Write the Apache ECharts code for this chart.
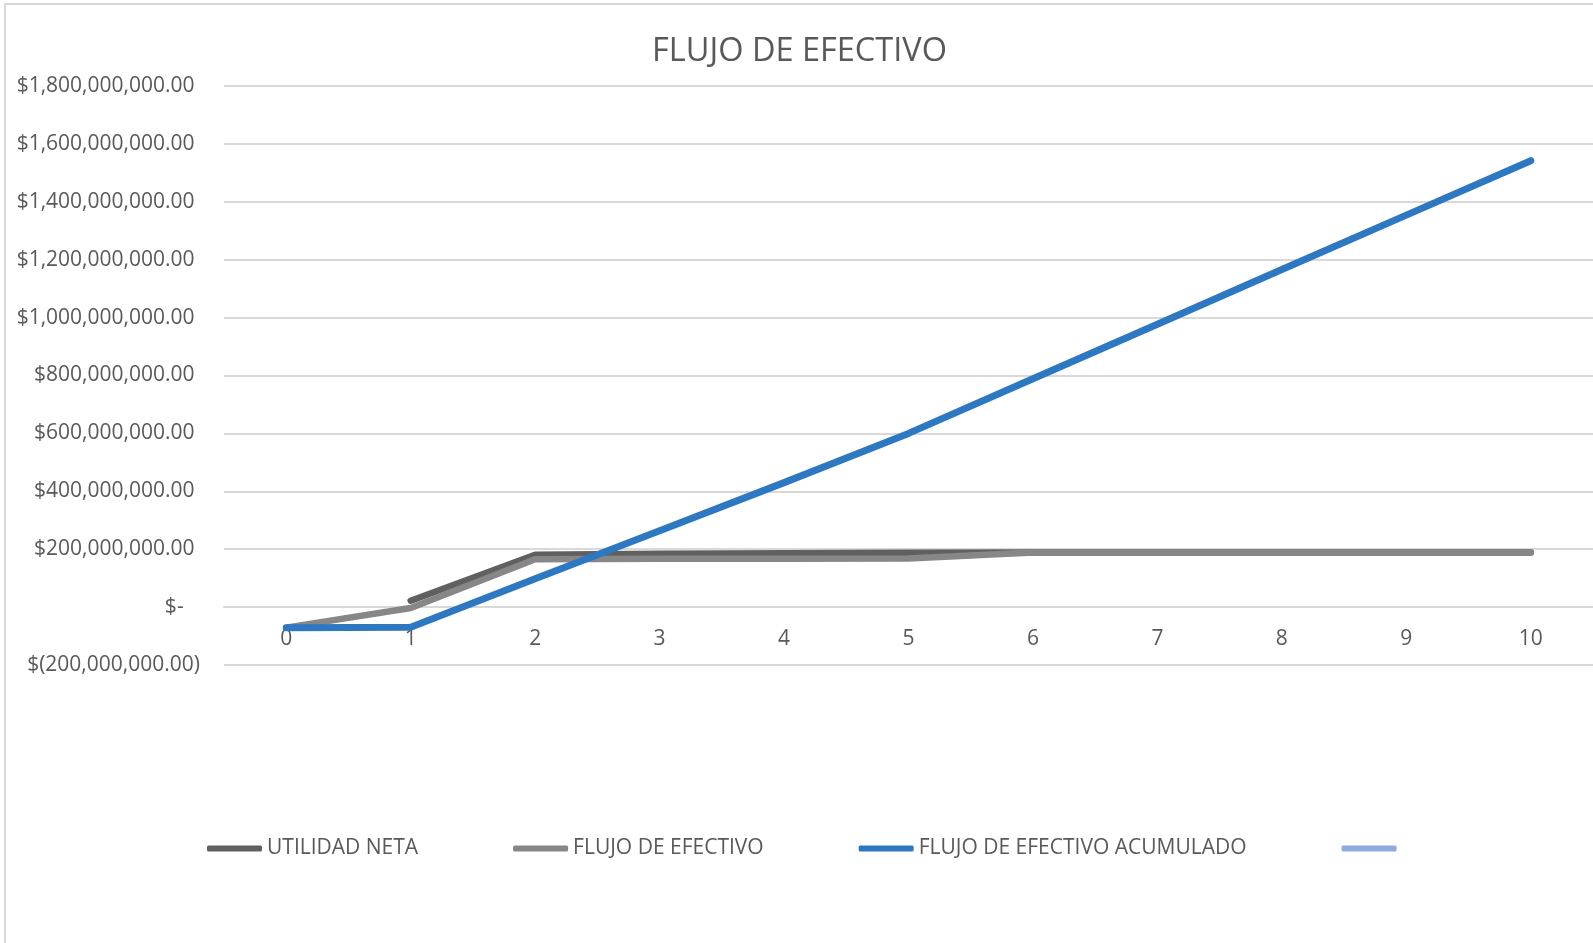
<!DOCTYPE html>
<html>
<head>
<meta charset="utf-8">
<title>FLUJO DE EFECTIVO</title>
<script src="https://cdn.jsdelivr.net/npm/echarts@6/dist/echarts.min.js"></script>
<style>
  html, body { margin: 0; padding: 0; background: #ffffff; }
  #chart { width: 1593px; height: 943px; }
</style>
</head>
<body>
<div id="chart"></div>
<script>
// Años del horizonte del proyecto
const years = ['0', '1', '2', '3', '4', '5', '6', '7', '8', '9', '10'];

// Valores en pesos por año
const utilidadNeta = [null, 22e6, 181e6, 184e6, 186e6, 188e6, 189e6, 189e6, 189e6, 189e6, 189e6];
const flujoEfectivo = [-71e6, -3e6, 165e6, 167e6, 167e6, 168e6, 189e6, 189e6, 189e6, 189e6, 189e6];
const flujoAcumulado = [-71e6, -70e6, 98e6, 264e6, 430e6, 600e6, 789e6, 977e6, 1166e6, 1354e6, 1542e6];
const serieVacia = [];

// Escala del eje de valores
const yMin = -200e6;
const yMax = 1800e6;
const yStep = 200e6;

const FONT = "'Open Sans', 'DejaVu Sans', sans-serif";
const TEXT = '#595959';
const GRID = '#d9d9d9';

// Área de trazado
const PLOT_TOP = 86;
const PLOT_BOTTOM = 278;
const PLOT_HEIGHT = 943 - PLOT_TOP - PLOT_BOTTOM;

// Formato contable: $1,234.00 / $(1,234.00) / $-
function withCommas(n) {
  const fixed = n.toFixed(2);
  const parts = fixed.split('.');
  parts[0] = parts[0].replace(/\B(?=(\d{3})+(?!\d))/g, ',');
  return parts.join('.');
}
function contable(v) {
  if (v === 0) return '$-   ';
  if (v < 0) return '$(' + withCommas(Math.abs(v)) + ')';
  return '$' + withCommas(v) + ' ';
}

// El eje de categorías se dibuja sobre la línea de cero
const zeroOffset = -PLOT_HEIGHT * (0 - yMin) / (yMax - yMin);

const chart = echarts.init(document.getElementById('chart'), null, { renderer: 'canvas' });

function lineSeries(name, data, color, width) {
  return {
    name: name,
    type: 'line',
    data: data,
    showSymbol: false,
    symbol: 'none',
    animation: false,
    lineStyle: { color: color, width: width, cap: 'round', join: 'round' },
    itemStyle: { color: color }
  };
}

chart.setOption({
  backgroundColor: '#ffffff',
  animation: false,
  textStyle: { fontFamily: FONT },
  title: {
    text: 'FLUJO DE EFECTIVO',
    left: 647,
    top: 30,
    textStyle: { color: TEXT, fontSize: 32.5, fontWeight: 'normal', fontFamily: FONT }
  },
  graphic: [{
    type: 'rect',
    silent: true,
    shape: { x: 5, y: 4, width: 1600, height: 950 },
    style: { fill: 'none', stroke: GRID, lineWidth: 2 }
  }],
  grid: { left: 224, right: -2, top: PLOT_TOP, bottom: PLOT_BOTTOM, containLabel: false },
  legend: {
    left: 202,
    top: 833,
    itemGap: 95,
    itemWidth: 55,
    itemHeight: 6,
    icon: 'roundRect',
    textStyle: { color: TEXT, fontSize: 21, fontFamily: FONT },
    data: ['UTILIDAD NETA', 'FLUJO DE EFECTIVO', 'FLUJO DE EFECTIVO ACUMULADO', ' ']
  },
  xAxis: {
    type: 'category',
    data: years,
    boundaryGap: true,
    position: 'bottom',
    offset: zeroOffset,
    axisLine: { show: true, onZero: false, lineStyle: { color: GRID, width: 2 } },
    axisTick: { show: false },
    axisLabel: { color: TEXT, fontSize: 21, fontFamily: FONT, margin: 21 },
    splitLine: { show: false }
  },
  yAxis: {
    type: 'value',
    min: yMin,
    max: yMax,
    interval: yStep,
    axisLine: { show: false },
    axisTick: { show: false },
    axisLabel: { color: TEXT, fontSize: 21, fontFamily: FONT, margin: 24, formatter: contable },
    splitLine: { show: true, lineStyle: { color: GRID, width: 2 } }
  },
  series: [
    lineSeries('UTILIDAD NETA', utilidadNeta, '#606060', 6.5),
    lineSeries('FLUJO DE EFECTIVO', flujoEfectivo, '#878787', 6.5),
    lineSeries('FLUJO DE EFECTIVO ACUMULADO', flujoAcumulado, '#2e78c2', 7),
    lineSeries(' ', serieVacia, '#8faadc', 6.5)
  ]
});
</script>
</body>
</html>
